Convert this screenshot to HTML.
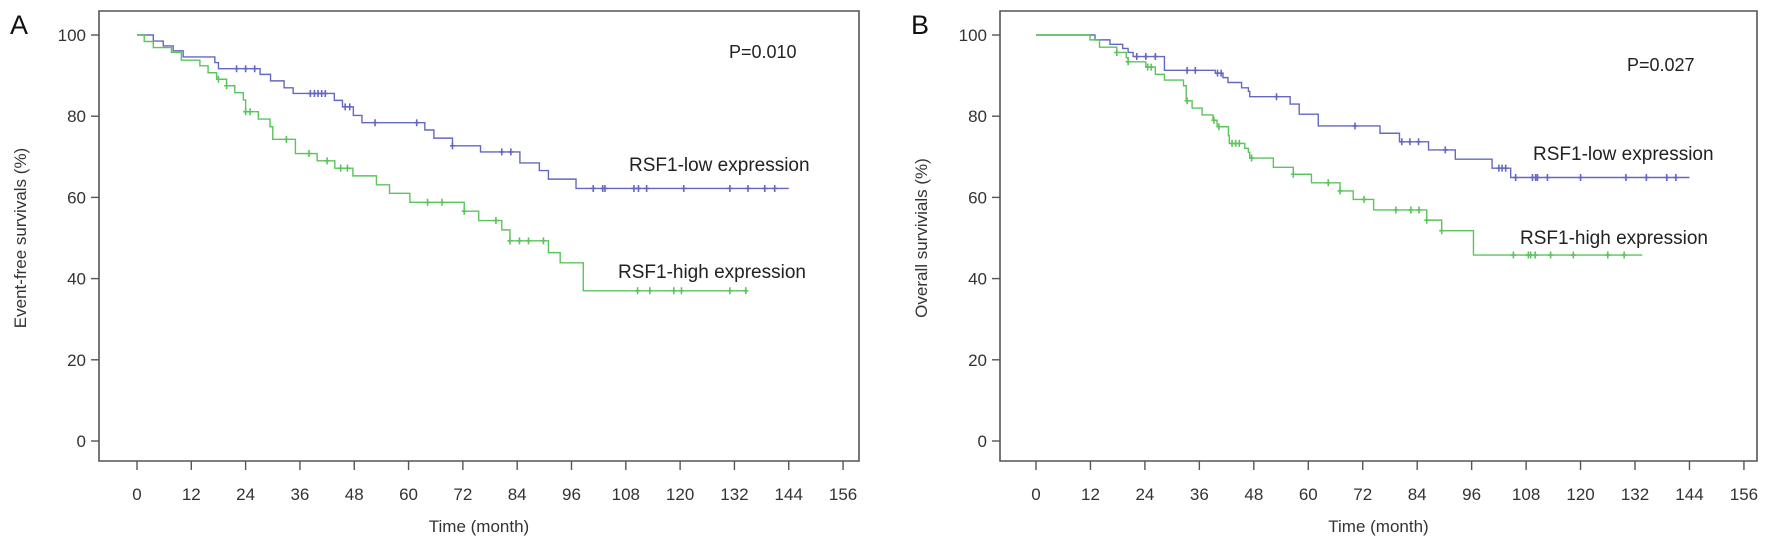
<!DOCTYPE html>
<html><head><meta charset="utf-8"><style>
body{margin:0;background:#fff;}
svg{display:block;font-family:"Liberation Sans",Arial,sans-serif;}
</style></head><body>
<svg id="chart" width="1772" height="547" viewBox="0 0 1772 547"></svg>
<script>
// Panel A: event-free survival
const aLowTimes=[0,3.6,5.8,8.0,10.2,17.2,18,27.2,29.5,32.5,34.5,43.6,45.4,47.8,49.7,63.6,65.6,69.7,75.9,84.6,88.9,90.9,97];
const aLowVals=[100,98.5,97.3,96.1,94.6,93.2,91.7,90.3,88.7,87.0,85.6,83.9,82.3,80.2,78.4,76.6,74.6,72.7,71.2,68.5,66.6,64.5,62.2];
const aLowCens=[22,24,26,38.3,39.2,40,40.8,41.6,46,47,52.6,61.8,69.7,80.6,82.6,100.8,102.9,103.4,109.8,110.8,112.6,120.8,131,135,138.7,140.9];
const aLowEnd=144;
const aHighTimes=[0,1.6,3.6,7.6,9.8,13.9,15.7,17.6,19.8,21.6,23.5,24,26.8,29.4,30,35,39.8,43.7,47.7,52.9,55.8,60.3,72.3,75.5,80.6,82.4,90.9,93.5,98.6];
const aHighVals=[100,98.4,96.9,95.7,93.8,92.4,90.7,89.1,87.5,85.8,84.0,81.1,79.3,77.4,74.3,70.8,69,67.2,65.3,63.1,61,58.8,56.6,54.3,52,49.3,46.4,43.9,37];
const aHighCens=[18,19.8,24,25,33,38,42,45,46.5,64.2,67.4,72.3,79.3,82.4,84.5,86.5,89.8,110.6,113.3,118.6,120.3,131,134.5];
const aHighEnd=134.5;
// Panel B: overall survival
const bLowTimes=[0,13,16.3,19.1,20.3,21.4,28.3,39.5,41.2,42.3,45.3,46.8,47.1,56,58,62.2,75.8,80.1,86.5,92.4,100.5,104.6];
const bLowVals=[100,98.8,97.7,96.7,95.7,94.7,91.3,90.6,89.5,88.3,87,86.1,84.8,83,80.5,77.6,75.8,73.7,71.7,69.4,67.2,64.9];
const bLowCens=[22.2,24.2,26.3,33.3,35.1,40,40.8,53,70.3,80.6,82.4,84.3,90.2,102,102.7,103.5,105.7,109.4,110.1,110.5,112.7,120,130,134.5,139,141];
const bLowEnd=144;
const bHighTimes=[0,11.9,14,17.8,19.9,20.3,24.2,26.3,28.3,32.5,33.1,34.4,36.6,39,39.9,42.4,42.6,46,46.8,47.1,52.3,56.7,60.7,67,69.9,74.4,86.1,89.4,96.4];
const bHighVals=[100,98.8,97,95.7,94.4,93.4,92.1,90.3,88.9,87.5,83.8,82,80.3,79,77.4,75.2,73.3,72.1,71.1,69.7,67.4,65.7,63.6,61.6,59.5,56.9,54.4,51.8,45.8];
const bHighCens=[17.8,20.3,24.6,25.4,33.3,39.2,40.3,43.2,44,44.8,47.5,56.7,64.4,67,72.3,79.3,82.6,84.4,86.1,89.4,105.2,108.5,109,110,113.4,118.4,126,129.6];
const bHighEnd=133.6;
const xTicks=[0,12,24,36,48,60,72,84,96,108,120,132,144,156];
const yTicks=[0,20,40,60,80,100];

const NS="http://www.w3.org/2000/svg";
const svg=document.getElementById('chart');
const BLUE="#6468c4", GREEN="#5cc45c", AX="#555";
function mk(tag,attrs,parent){const e=document.createElementNS(NS,tag);for(const k in attrs)e.setAttribute(k,attrs[k]);(parent||svg).appendChild(e);return e;}
const yS=v=>441-v*4.06;
function stepVal(times,vals,t){let v=vals[0];for(let i=0;i<times.length;i++){if(times[i]<=t)v=vals[i];}return v;}

function panel(cfg){
  const g=mk('g',{});
  
  
  const xS=m=>cfg.x0+m*cfg.px;
  const box=mk('path',{d:`M${cfg.left},${cfg.top} V461 H${cfg.right} V${cfg.top} Z`,fill:'none',stroke:AX,'stroke-width':1.6},g);
  
  
  yTicks.forEach(v=>{
    const y=yS(v);
    mk('line',{x1:cfg.left-8,x2:cfg.left,y1:y,y2:y,stroke:AX,'stroke-width':1.4},g);
    const t=mk('text',{x:cfg.left-13,y:y+6,'text-anchor':'end','font-size':17,fill:'#333'},g);
    t.textContent=v;
    
    
  });
  xTicks.forEach(m=>{
    const x=xS(m);
    mk('line',{x1:x,x2:x,y1:461,y2:470,stroke:AX,'stroke-width':1.4},g);
    const t=mk('text',{x:x,y:500,'text-anchor':'middle','font-size':17,fill:'#333'},g);
    t.textContent=m;
    
    
  });
  const xt=mk('text',{x:(cfg.left+cfg.right)/2,y:532,'text-anchor':'middle','font-size':17,fill:'#333'},g);
  xt.textContent='Time (month)';
  
  
  const yt=mk('text',{x:0,y:0,'text-anchor':'middle','font-size':17,fill:'#333',transform:`translate(${cfg.left-73},238) rotate(-90)`},g);
  yt.textContent=cfg.ytitle;
  
  
  const lt=mk('text',{x:cfg.letterX,y:34,'font-size':27,fill:'#111'},g);
  lt.textContent=cfg.letter;
  
  
  const pv=mk('text',{x:cfg.pX,y:cfg.pY,'font-size':18,fill:'#222'},g);
  pv.textContent=cfg.p;
  
  
  cfg.series.forEach(s=>{
    let d=`M${xS(s.t[0])},${yS(s.v[0])}`;
    for(let i=1;i<s.t.length;i++){d+=` H${xS(s.t[i])} V${yS(s.v[i])}`;}
    d+=` H${xS(s.end)}`;
    const p=mk('path',{d:d,fill:'none',stroke:s.color,'stroke-width':1.4},g);
    
    
    s.c.forEach(m=>{
      const x=xS(m),y=yS(stepVal(s.t,s.v,m));
      const c=mk('path',{d:`M${x},${y-3.5} V${y+3.5} M${x-2.5},${y} H${x+2.5}`,stroke:s.color,'stroke-width':1.6},g);
      
      
    });
    const lg=mk('text',{x:s.lx,y:s.ly,'font-size':19,fill:'#222'},g);
    lg.textContent=s.label;
    
    
  });
}
panel({name:'panel-a-event-free',left:99,right:859,top:11,x0:137,px:4.526,ytitle:'Event-free survivals (%)',letter:'A',letterX:10,p:'P=0.010',pX:729,pY:58,
  series:[{name:'rsf1-low',t:aLowTimes,v:aLowVals,c:aLowCens,end:aLowEnd,color:BLUE,label:'RSF1-low expression',lx:629,ly:171},
          {name:'rsf1-high',t:aHighTimes,v:aHighVals,c:aHighCens,end:aHighEnd,color:GREEN,label:'RSF1-high expression',lx:618,ly:278}]});
panel({name:'panel-b-overall',left:1000,right:1757,top:11,x0:1036,px:4.538,ytitle:'Overall survivials (%)',letter:'B',letterX:911,p:'P=0.027',pX:1627,pY:71,
  series:[{name:'rsf1-low',t:bLowTimes,v:bLowVals,c:bLowCens,end:bLowEnd,color:BLUE,label:'RSF1-low expression',lx:1533,ly:160},
          {name:'rsf1-high',t:bHighTimes,v:bHighVals,c:bHighCens,end:bHighEnd,color:GREEN,label:'RSF1-high expression',lx:1520,ly:244}]});
</script>
</body></html>
